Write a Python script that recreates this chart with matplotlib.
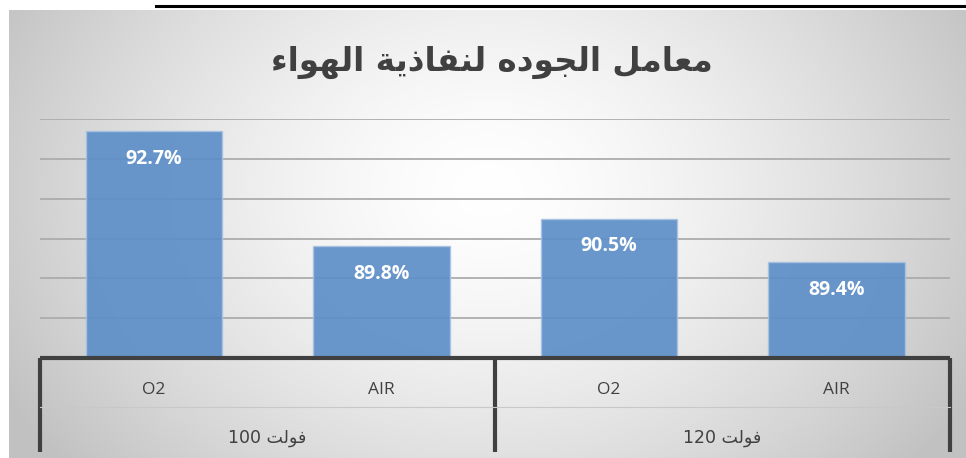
import numpy as np
import matplotlib
matplotlib.use("Agg")
from matplotlib import pyplot as plt
from matplotlib.lines import Line2D

plt.rcParams['font.family'] = ['Open Sans', 'DejaVu Sans']

# data
groups = ["فولت 100", "فولت 120"]
series = ["O2", "AIR", "O2", "AIR"]
values = [92.7, 89.8, 90.5, 89.4]
labels = ["92.7%", "89.8%", "90.5%", "89.4%"]
title = "معامل الجوده لنفاذية الهواء"

# matplotlib has no arabic shaping, so map letters to presentation forms by hand
forms = {  # isolated, final, initial, medial
    'ا': ('\ufe8d', '\ufe8e', None, None),
    'ء': ('\ufe80', '\ufe80', None, None),
    'د': ('\ufea9', '\ufeaa', None, None),
    'ذ': ('\ufeab', '\ufeac', None, None),
    'و': ('\ufeed', '\ufeee', None, None),
    'ة': ('\ufe93', '\ufe94', None, None),
    'م': ('\ufee1', '\ufee2', '\ufee3', '\ufee4'),
    'ع': ('\ufec9', '\ufeca', '\ufecb', '\ufecc'),
    'ل': ('\ufedd', '\ufede', '\ufedf', '\ufee0'),
    'ج': ('\ufe9d', '\ufe9e', '\ufe9f', '\ufea0'),
    'ه': ('\ufee9', '\ufeea', '\ufeeb', '\ufeec'),
    'ن': ('\ufee5', '\ufee6', '\ufee7', '\ufee8'),
    'ف': ('\ufed1', '\ufed2', '\ufed3', '\ufed4'),
    'ي': ('\ufef1', '\ufef2', '\ufef3', '\ufef4'),
    'ت': ('\ufe95', '\ufe96', '\ufe97', '\ufe98'),
}


def shape_word(w):
    out = []
    for i, c in enumerate(w):
        if c not in forms:
            out.append(c)
            continue
        prev = w[i - 1] if i > 0 else None
        nxt = w[i + 1] if i + 1 < len(w) else None
        join_prev = prev in forms and forms[prev][2] is not None
        join_next = nxt in forms and forms[c][2] is not None
        if join_prev and join_next:
            out.append(forms[c][3])
        elif join_prev:
            out.append(forms[c][1])
        elif join_next:
            out.append(forms[c][2])
        else:
            out.append(forms[c][0])
    return ''.join(out)


def rtl(s):
    parts = s.split(' ')
    parts = [p if p.isdigit() else shape_word(p)[::-1] for p in parts]
    return ' '.join(parts[::-1])


W, H = 966, 458
fig = plt.figure(figsize=(W / 100, H / 100), dpi=100)

# radial grey background
bg = fig.add_axes([9 / W, 0, (W - 9) / W, (H - 10) / H])
yy, xx = np.mgrid[0:200, 0:400]
r = np.sqrt(((xx - 200) / 230.0) ** 2 + ((yy - 80) / 190.0) ** 2)
v = 1 - 0.24 * np.clip(r, 0, 1) ** 1.5
bg.imshow(np.dstack([v, v, v]), aspect='auto', extent=[0, 1, 0, 1], origin='upper')
bg.axis('off')

# underline from the cut-off text above the chart
fig.add_artist(Line2D([156 / W, 1], [1 - 6 / H, 1 - 6 / H], color='black', lw=2.2))

ax = fig.add_axes([40 / W, 100 / H, 910 / W, 239 / H])
ax.patch.set_alpha(0)
x = np.arange(len(values))
ax.set_xlim(-0.5, len(values) - 0.5)
ax.set_ylim(87, 93)
for g in range(88, 94):
    ax.axhline(g, color='#acacac', lw=1.3, zorder=1)
ax.bar(x, [v - 87 for v in values], bottom=87, width=0.6, color='#5d8fc8',
       alpha=0.92, edgecolor='#a9c2e2', lw=1, zorder=2)
for xi, v, lab in zip(x, values, labels):
    ax.text(xi, v - 0.7, lab, ha='center', va='center', color='white',
            fontsize=14, fontweight='bold', zorder=3)
for s in ax.spines.values():
    s.set_visible(False)
ax.set_xticks([])
ax.set_yticks([])

# two-level category axis
kw = dict(transform=ax.transAxes, clip_on=False, color='#404040', lw=3, solid_capstyle='butt')
ax.plot([0, 1], [0, 0], **kw)
low = -94 / 239
for xv in [0, 0.5, 1]:
    ax.plot([xv, xv], [0, low], **kw)
ax.plot([0, 1], [-49 / 239, -49 / 239], transform=ax.transAxes, clip_on=False,
        color='#c8c8c8', lw=0.8)
for xi, s in zip(x, series):
    ax.text((xi + 0.5) / len(x), -32 / 239, s, transform=ax.transAxes,
            ha='center', va='center', fontsize=12.5, color='#404040')
for gi, g in enumerate(groups):
    ax.text(0.25 + 0.5 * gi, -80 / 239, rtl(g), transform=ax.transAxes,
            ha='center', va='center', fontsize=12.5, color='#404040',
            family=['DejaVu Sans'])

fig.text(492 / W, 1 - 62 / H, rtl(title), ha='center', va='center', fontsize=23.5,
         fontweight='bold', color='#404040', family=['DejaVu Sans'])

fig.savefig('out.png', dpi=100)
